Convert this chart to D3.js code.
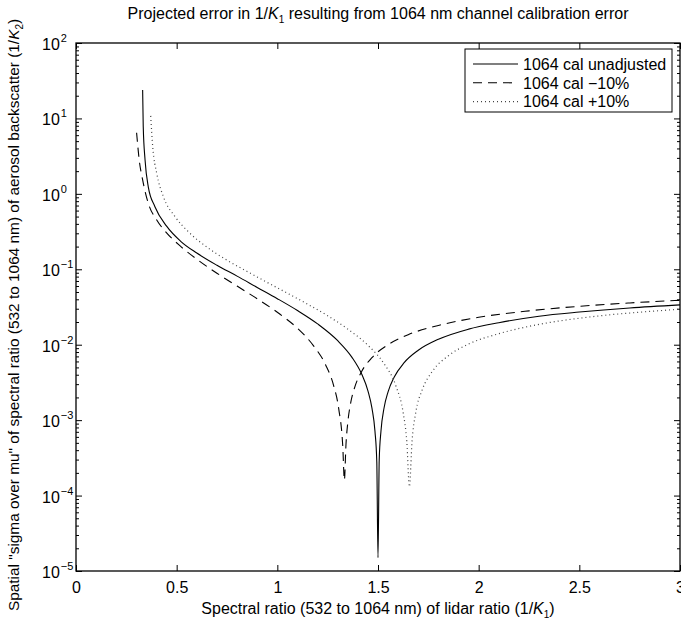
<!DOCTYPE html>
<html>
<head>
<meta charset="utf-8">
<script src="https://cdn.jsdelivr.net/npm/d3@7"></script>
<style>
  body { margin: 0; background: #fff; }
  svg { display: block; font-family: "Liberation Sans", Arial, Helvetica, sans-serif; }
</style>
</head>
<body>
<svg id="chart"></svg>
<script>
// values
const unadjX = [0.331, 0.334, 0.343, 0.359, 0.392, 0.45, 0.52, 0.6, 0.7, 0.8, 0.9, 1.0, 1.1, 1.2, 1.3, 1.37, 1.42, 1.45, 1.47, 1.485, 1.494, 1.5,
    1.506, 1.515, 1.53, 1.55, 1.58, 1.63, 1.7, 1.8, 1.95, 2.1, 2.3, 2.5, 2.75, 3.0];
const unadjY = [23.8, 7.74, 2.81, 1.24, 0.676, 0.373, 0.235, 0.164, 0.113, 0.0812, 0.0575, 0.0408, 0.0284, 0.0189, 0.0113, 0.00685, 0.00402, 0.00245, 0.00144, 7.1e-4, 2.8e-4, 1.5e-5,
    2.95e-4, 7.3e-4, 0.00145, 0.00237, 0.0037, 0.00578, 0.00844, 0.0118, 0.0161, 0.0196, 0.0239, 0.0271, 0.0307, 0.0337];

const minusX = [0.301, 0.314, 0.331, 0.359, 0.401, 0.45, 0.52, 0.6, 0.7, 0.8, 0.9, 1.0, 1.1, 1.18, 1.24, 1.28, 1.305, 1.325, 1.333,
    1.341, 1.35, 1.365, 1.385, 1.42, 1.47, 1.55, 1.65, 1.8, 2.0, 2.25, 2.5, 2.75, 3.0];
const minusY = [6.47, 2.81, 1.53, 0.75, 0.45, 0.304, 0.201, 0.136, 0.0887, 0.0599, 0.0407, 0.0269, 0.0165, 0.00966, 0.0054, 0.00285, 0.00141, 4.5e-4, 1.6e-4,
    4.8e-4, 9.3e-4, 0.00173, 0.00276, 0.00448, 0.00675, 0.01, 0.0136, 0.018, 0.0231, 0.0281, 0.0323, 0.0358, 0.0388];

const plusX = [0.371, 0.381, 0.401, 0.434, 0.49, 0.56, 0.65, 0.75, 0.85, 0.95, 1.05, 1.15, 1.25, 1.35, 1.45, 1.53, 1.59, 1.625, 1.643, 1.656,
    1.669, 1.688, 1.72, 1.77, 1.85, 1.95, 2.1, 2.3, 2.55, 2.8, 3.0];
const plusY = [10.8, 4.22, 1.87, 0.917, 0.507, 0.311, 0.197, 0.132, 0.0936, 0.0669, 0.0482, 0.0345, 0.0242, 0.0161, 0.00982, 0.0056, 0.00279, 0.00125, 5.2e-4, 1.31e-4,
    5.2e-4, 0.00128, 0.00254, 0.00444, 0.00716, 0.0102, 0.014, 0.0186, 0.0233, 0.027, 0.0295];

const xTicks = [0, 0.5, 1, 1.5, 2, 2.5, 3];
const yExponents = [-5, -4, -3, -2, -1, 0, 1, 2];
const legendLabels = ["1064 cal unadjusted", "1064 cal \u221210%", "1064 cal +10%"];
const dashStyles = [null, "9,6", "1,3"];
const seriesStroke = ["#000", "#000", "#444"];

const W = 681, H = 624;
const margin = { top: 43, right: 1, bottom: 53, left: 76 };
const width = W - margin.left - margin.right;
const height = H - margin.top - margin.bottom;

const svg = d3.select('#chart')
    .attr('width', W)
    .attr('height', H);

const xScale = d3.scaleLinear().domain([0, 3]).range([margin.left, margin.left + width]);
const yScale = d3.scaleLog().domain([1e-5, 1e2]).range([margin.top + height, margin.top]);

// minor log ticks 2..9 in every decade
const minorTicks = [];
yExponents.slice(0, -1).forEach(e => {
    for (let m = 2; m <= 9; m++) minorTicks.push(m * Math.pow(10, e));
});
const majorTicks = yExponents.map(e => Math.pow(10, e));

const axisFont = 16;

// bottom axis with labels
const gx = svg.append('g')
    .attr('transform', `translate(0,${margin.top + height})`)
    .call(d3.axisBottom(xScale).tickValues(xTicks).tickSizeInner(-6).tickSizeOuter(0).tickPadding(11)
        .tickFormat(d => d3.format('')(d)));
gx.select('.domain').remove();
gx.selectAll('text').style('font-size', axisFont + 'px').attr('fill', '#000').attr('font-family', null);

// top ticks
const gxt = svg.append('g')
    .attr('transform', `translate(0,${margin.top})`)
    .call(d3.axisTop(xScale).tickValues(xTicks).tickSizeInner(-6).tickSizeOuter(0).tickFormat(''));
gxt.select('.domain').remove();

// left / right ticks
[[d3.axisLeft, margin.left], [d3.axisRight, margin.left + width]].forEach(([ax, pos]) => {
    const gMaj = svg.append('g').attr('transform', `translate(${pos},0)`)
        .call(ax(yScale).tickValues(majorTicks).tickSizeInner(-6).tickSizeOuter(0).tickFormat(''));
    gMaj.select('.domain').remove();
    const gMin = svg.append('g').attr('transform', `translate(${pos},0)`)
        .call(ax(yScale).tickValues(minorTicks).tickSizeInner(-3).tickSizeOuter(0).tickFormat(''));
    gMin.select('.domain').remove();
});
svg.selectAll('.tick line').attr('stroke', '#000').attr('stroke-width', 1);

// y tick labels as 10^n
const yLabels = svg.append('g').selectAll('text')
    .data(yExponents)
    .enter()
    .append('text')
    .attr('x', 42)
    .attr('y', d => yScale(Math.pow(10, d)) + 7)
    .style('font-size', axisFont + 'px');
yLabels.append('tspan').text('10');
yLabels.append('tspan')
    .attr('dy', -8)
    .attr('dx', 1)
    .style('font-size', '11px')
    .text(d => d < 0 ? '\u2212' + (-d) : d);

// curves
const line = d3.line()
    .x(d => xScale(d[0]))
    .y(d => yScale(d[1]))
    .curve(d3.curveMonotoneX);

const series = [
    d3.zip(unadjX, unadjY),
    d3.zip(minusX, minusY),
    d3.zip(plusX, plusY)
];

svg.append('g').selectAll('path')
    .data(series)
    .enter()
    .append('path')
    .attr('d', line)
    .attr('fill', 'none')
    .attr('stroke', (d, i) => seriesStroke[i])
    .attr('stroke-width', (d, i) => i === 2 ? 1.2 : 1.1)
    .attr('stroke-dasharray', (d, i) => dashStyles[i]);

// frame
svg.append('rect')
    .attr('x', margin.left)
    .attr('y', margin.top)
    .attr('width', width)
    .attr('height', height)
    .attr('fill', 'none')
    .attr('stroke', '#000')
    .attr('stroke-width', 1.3);

// legend
const legend = svg.append('g').attr('transform', 'translate(465,49)');
legend.append('rect')
    .attr('width', 207)
    .attr('height', 63)
    .attr('fill', '#fff')
    .attr('stroke', '#000')
    .attr('stroke-width', 1);
const rows = legend.selectAll('.row')
    .data(legendLabels)
    .enter()
    .append('g')
    .attr('class', 'row')
    .attr('transform', (d, i) => `translate(0,${15 + i * 18.8})`);
rows.append('line')
    .attr('x1', 8).attr('x2', 53)
    .attr('stroke', (d, i) => seriesStroke[i])
    .attr('stroke-width', (d, i) => i === 2 ? 1.2 : 1.1)
    .attr('stroke-dasharray', (d, i) => dashStyles[i]);
rows.append('text')
    .attr('x', 58)
    .attr('dy', '0.36em')
    .style('font-size', axisFont + 'px')
    .text(d => d);

// title
const title = svg.append('text')
    .attr('x', margin.left + width / 2)
    .attr('y', 19)
    .attr('text-anchor', 'middle')
    .style('font-size', '16px');
title.append('tspan').text('Projected error in 1/');
title.append('tspan').style('font-style', 'italic').text('K');
title.append('tspan').attr('dy', 4).style('font-size', '10px').text('1');
title.append('tspan').attr('dy', -4).text(' resulting from 1064 nm channel calibration error');

// x label
const xLabel = svg.append('text')
    .attr('x', margin.left + width / 2)
    .attr('y', 614)
    .attr('text-anchor', 'middle')
    .style('font-size', axisFont + 'px');
xLabel.append('tspan').text('Spectral ratio (532 to 1064 nm) of lidar ratio (1/');
xLabel.append('tspan').style('font-style', 'italic').text('K');
xLabel.append('tspan').attr('dy', 4).style('font-size', '10px').text('1');
xLabel.append('tspan').attr('dy', -4).text(')');

// y label
const yLabel = svg.append('text')
    .attr('transform', `translate(19,${margin.top + height / 2 + 8}) rotate(-90)`)
    .attr('text-anchor', 'middle')
    .style('font-size', '15.4px');
yLabel.append('tspan').text('Spatial "sigma over mu" of spectral ratio (532 to 1064 nm) of aerosol backscatter (1/');
yLabel.append('tspan').style('font-style', 'italic').text('K');
yLabel.append('tspan').attr('dy', 4).style('font-size', '10px').text('2');
yLabel.append('tspan').attr('dy', -4).text(')');
</script>
</body>
</html>
